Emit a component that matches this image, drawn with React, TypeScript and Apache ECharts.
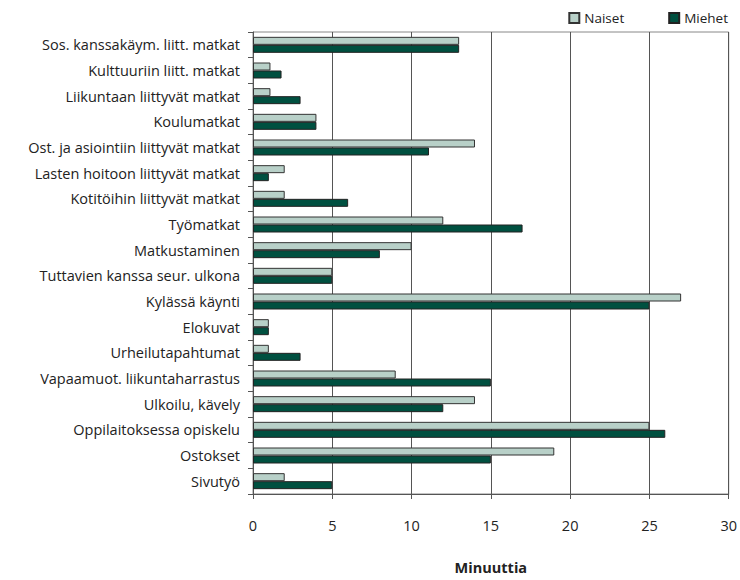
import React, { useEffect, useRef } from "react";
import * as echarts from "echarts";

const categories = [
  "Sos. kanssakäym. liitt. matkat",
  "Kulttuuriin liitt. matkat",
  "Liikuntaan liittyvät matkat",
  "Koulumatkat",
  "Ost. ja asiointiin liittyvät matkat",
  "Lasten hoitoon liittyvät matkat",
  "Kotitöihin liittyvät matkat",
  "Työmatkat",
  "Matkustaminen",
  "Tuttavien kanssa seur. ulkona",
  "Kylässä käynti",
  "Elokuvat",
  "Urheilutapahtumat",
  "Vapaamuot. liikuntaharrastus",
  "Ulkoilu, kävely",
  "Oppilaitoksessa opiskelu",
  "Ostokset",
  "Sivutyö",
];

const naiset = [13, 1.1, 1.1, 4, 14, 2, 2, 12, 10, 5, 27, 1, 1, 9, 14, 25, 19, 2];
const miehet = [13, 1.8, 3, 4, 11.1, 1, 6, 17, 8, 5, 25, 1, 3, 15, 12, 26, 15, 5];

const xTicks = [0, 5, 10, 15, 20, 25, 30];

const FONT = "Open Sans";

export default function App() {
  const ref = useRef<HTMLDivElement>(null);
  useEffect(() => {
    document.body.style.margin = "0";
    const chart = echarts.init(ref.current!, null, { renderer: "svg" });
    chart.setOption({
      animation: false,
      textStyle: { fontFamily: FONT },
      legend: {
        data: ["Naiset", "Miehet"],
        top: 6,
        right: 7,
        icon: "rect",
        itemWidth: 10,
        itemHeight: 10,
        itemGap: 44,
        textStyle: { fontFamily: FONT, fontSize: 13.5, color: "#222" },
      },
      grid: {
        left: 253,
        right: 7,
        top: 32,
        bottom: 73,
        show: true,
        borderColor: "#888",
        borderWidth: 1,
      },
      xAxis: {
        type: "value",
        min: xTicks[0],
        max: xTicks[xTicks.length - 1],
        interval: 5,
        name: "Minuuttia",
        nameLocation: "middle",
        nameGap: 66,
        nameTextStyle: { fontFamily: FONT, fontSize: 14.5, fontWeight: "bold", color: "#222" },
        axisLine: { show: true, lineStyle: { color: "#555", width: 1 } },
        axisTick: { show: true, length: 5, lineStyle: { color: "#555" } },
        axisLabel: { fontFamily: FONT, fontSize: 14.5, color: "#222", margin: 24 },
        splitLine: { show: true, lineStyle: { color: "#555", width: 1 } },
      },
      yAxis: {
        type: "category",
        data: categories,
        inverse: true,
        axisLine: { show: true, lineStyle: { color: "#555", width: 1 } },
        axisTick: { show: true, length: 5, lineStyle: { color: "#555" } },
        axisLabel: { fontFamily: FONT, fontSize: 14.5, color: "#222", margin: 13 },
        splitLine: { show: false },
      },
      series: [
        {
          name: "Naiset",
          type: "bar",
          data: naiset,
          barWidth: 8,
          barGap: "0%",
          itemStyle: { color: "#b8d0c8", borderColor: "#333", borderWidth: 1 },
        },
        {
          name: "Miehet",
          type: "bar",
          data: miehet,
          barWidth: 8,
          barGap: "0%",
          itemStyle: { color: "#005040", borderColor: "#222", borderWidth: 1 },
        },
      ],
    });
    return () => chart.dispose();
  }, []);
  return <div ref={ref} style={{ width: 740, height: 580 }} />;
}
